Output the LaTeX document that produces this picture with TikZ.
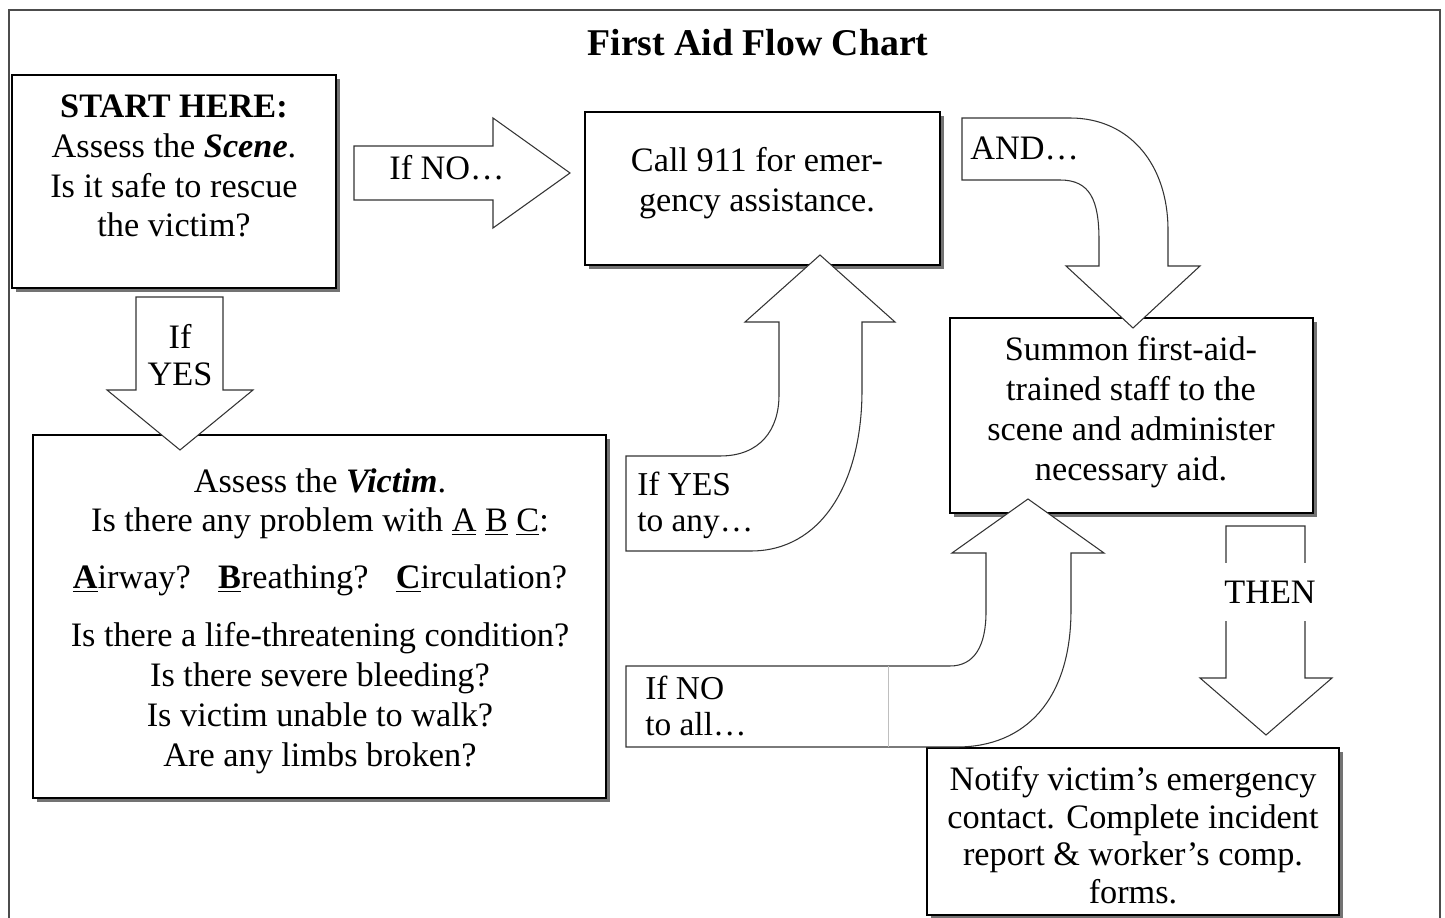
\documentclass[tikz,border=0pt]{standalone}
\usepackage{fontspec}
\setmainfont{Liberation Serif}
\usetikzlibrary{shadows}

\begin{document}
\begin{tikzpicture}[x=0.02cm,y=-0.02cm,
  box/.style={draw, line width=0.8pt, fill=white, inner sep=0pt,
    drop shadow={shadow xshift=0.08cm, shadow yshift=-0.08cm, fill=black!55, opacity=1}},
  txt/.style={align=center, font=\fontsize{19.5}{22.7}\selectfont},
  lbl/.style={align=left, font=\fontsize{19.5}{21}\selectfont, inner sep=0pt},
  blockarrow/.style={draw=black!80, line width=0.6pt, fill=white}]

\useasboundingbox (0,0) rectangle (1445,918);
\draw[line width=1.3pt, black!70] (9,918) -- (9,10) -- (1440,10) -- (1440,918);
\node[font=\fontsize{21.5}{24}\selectfont\bfseries] (title) at (758,43) {First Aid Flow Chart};

% boxes
\node[box, minimum width=6.48cm, minimum height=4.26cm] (start) at (174,181.5) {};
\node[txt] (starttxt) at (174,166) {\textbf{START HERE:}\\ Assess the \textbf{\textit{Scene}}.\\ Is it safe to rescue\\ the victim?};

\node[box, minimum width=7.1cm, minimum height=3.06cm] (call) at (762.5,188.5) {};
\node[txt] (calltxt) at (757,183) {Call 911 for emer-\\gency assistance.};

\node[box, minimum width=11.46cm, minimum height=7.26cm] (victim) at (319.5,616.5) {};
\node[txt] (victimtxt) at (320,621) {Assess the \textbf{\textit{Victim}}.\\
  Is there any problem with \underline{A} \underline{B} \underline{C}:\\[0.34cm]
  \underline{\textbf{A}}irway?\hspace{0.8em}\underline{\textbf{B}}reathing?\hspace{0.8em}\underline{\textbf{C}}irculation?\\[0.36cm]
  Is there a life-threatening condition?\\
  Is there severe bleeding?\\
  Is victim unable to walk?\\
  Are any limbs broken?};

\node[box, minimum width=7.26cm, minimum height=3.9cm] (summon) at (1131.5,415.5) {};
\node[txt] (summontxt) at (1131,412) {Summon first-aid-\\trained staff to the\\scene and administer\\necessary aid.};

\node[box, minimum width=8.24cm, minimum height=3.34cm] (notify) at (1133,831.5) {};
\node[txt, font=\fontsize{19.5}{21.4}\selectfont] (notifytxt) at (1133,835) {Notify victim’s emergency\\contact. Complete incident\\report \& worker’s comp.\\forms.};

% block arrows
\draw[blockarrow] (354,146) -- (493,146) -- (493,118) -- (570,173) -- (493,228) -- (493,200) -- (354,200) -- cycle;
\node[lbl, anchor=west] (ifno) at (389,168) {If NO…};

\draw[blockarrow] (136,297) -- (223,297) -- (223,390) -- (253,390) -- (180,450) -- (107,390) -- (136,390) -- cycle;
\node[txt, font=\fontsize{19.5}{21.5}\selectfont] (ifyes) at (180,355) {If\\YES};

\draw[blockarrow] (626,456) -- (720,456) .. controls (760,456) and (779,430) .. (779,395)
  -- (779,322) -- (745,322) -- (820,255) -- (895,322) -- (862,322) -- (862,390)
  .. controls (862,485) and (820,551) .. (751,551) -- (626,551) -- cycle;
\node[lbl, font=\fontsize{19}{20.5}\selectfont, anchor=west] (ifyesany) at (637,505) {If YES\\to any…};

\draw[blockarrow] (962,118) -- (1070,118) .. controls (1130,118) and (1168,165) .. (1168,230)
  -- (1168,266) -- (1200,266) -- (1133,328) -- (1066,266) -- (1099,266) -- (1099,240)
  .. controls (1099,200) and (1090,180) .. (1060,180) -- (962,180) -- cycle;
\node[lbl, anchor=west] (and) at (970,148) {AND…};

\draw[blockarrow] (626,666) -- (950,666) .. controls (975,666) and (986,645) .. (986,612)
  -- (986,553) -- (952,553) -- (1028,499) -- (1104,553) -- (1071,553) -- (1071,610)
  .. controls (1071,700) and (1025,747) .. (957,747) -- (626,747) -- cycle;
\draw[black!25, line width=0.4pt] (888,666) -- (888,747);
\node[lbl, font=\fontsize{19}{20.5}\selectfont, anchor=west] (ifnoall) at (645,706) {If NO\\to all…};

\draw[blockarrow] (1226,526) -- (1305,526) -- (1305,678) -- (1332,678) -- (1266,735) -- (1200,678) -- (1226,678) -- cycle;
\node[lbl, fill=white, minimum width=1.85cm, minimum height=1.18cm] (then) at (1270,592) {THEN};

\end{tikzpicture}
\end{document}
